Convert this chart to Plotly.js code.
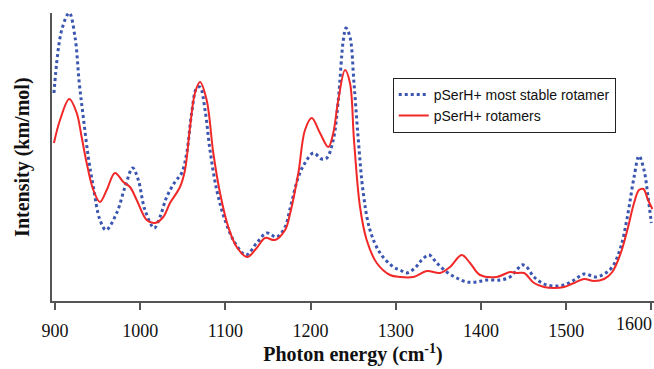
<!DOCTYPE html>
<html>
<head>
<meta charset="utf-8">
<script src="https://cdn.plot.ly/plotly-3.0.1.min.js"></script>
<style>html,body{margin:0;padding:0;background:#fff;}#chart{width:654px;height:369px;}</style>
</head>
<body>
<div id="chart"></div>
<script>
// Photon energy (cm-1) and intensity (arbitrary, km/mol)
const blueX = [898.8, 907.9, 916.8, 923.5, 928.5, 933.2, 939.1, 945, 952.8, 959.9, 972.4, 982.2, 991.2, 997.8, 1005.6, 1016.5, 1023.2, 1031.1, 1040.8, 1048.7, 1054.6, 1060.4, 1066.3, 1070.2, 1076.1, 1081.9, 1089.8, 1099.5, 1111.3, 1124.2, 1136.7, 1148.5, 1160.2, 1170, 1175.8, 1185.6, 1193.4, 1203.2, 1213, 1218.9, 1226.6, 1232.5, 1238.4, 1241.5, 1246.2, 1250.9, 1256, 1261.8, 1269.7, 1281.5, 1297.1, 1304.9, 1312.8, 1322.5, 1330.4, 1339, 1348, 1359.7, 1371.5, 1383.2, 1395, 1406.7, 1422.3, 1434, 1441.9, 1447.7, 1452.5, 1462.2, 1473.9, 1485.7, 1497.4, 1509.2, 1520.9, 1534.6, 1544.4, 1554.1, 1564, 1571.7, 1579.6, 1585.4, 1591.3, 1596, 1599.9];
const blueY = [208, 271, 288, 264, 218, 184, 144, 114, 81, 71, 88, 114, 133, 121, 91, 73, 84, 104, 119, 128, 148, 188, 213, 214, 191, 151, 111, 81, 58, 46, 58, 68, 64, 74, 92, 124, 138, 148, 142, 143, 161, 201, 261, 273, 264, 218, 161, 108, 71, 48, 34, 31, 28, 33, 41, 46, 38, 29, 23, 19, 19, 21, 21, 24, 31, 36, 35, 24, 17, 15, 16, 21, 27, 24, 27, 34, 54, 84, 124, 145, 131, 104, 78];
const redX = [898.8, 905.9, 916.8, 925.5, 931.3, 937.2, 945, 952.8, 960.7, 970.4, 980.2, 988, 995.9, 1007.6, 1017.4, 1027.1, 1035, 1046.7, 1052.6, 1058.5, 1064.3, 1070.2, 1078, 1085.8, 1093.7, 1103.4, 1113.3, 1125.7, 1136.7, 1146.5, 1158.2, 1170, 1175.8, 1185.6, 1193.4, 1201.3, 1211, 1220.8, 1226.6, 1232.5, 1240.4, 1246.2, 1250.9, 1258, 1265.8, 1277.6, 1293.2, 1304.9, 1320.5, 1336.3, 1351.9, 1363.6, 1377.3, 1387.1, 1398.8, 1418.4, 1434, 1441.9, 1450.5, 1462.2, 1473.9, 1485.7, 1497.4, 1509.2, 1520.9, 1532.6, 1544.4, 1554.1, 1564, 1571.7, 1579.6, 1585.4, 1590.5, 1596, 1601.1];
const redY = [158, 181, 202, 188, 164, 138, 111, 99, 111, 128, 119, 114, 101, 81, 78, 84, 98, 114, 131, 174, 208, 219, 201, 148, 108, 74, 54, 44, 53, 63, 61, 71, 87, 128, 171, 183, 168, 154, 168, 201, 231, 218, 161, 94, 61, 38, 26, 24, 24, 30, 28, 34, 46, 38, 26, 24, 29, 28, 28, 18, 14, 13, 14, 18, 22, 20, 22, 29, 48, 71, 98, 111, 112, 101, 92];
const tickVals = [900, 1000, 1100, 1200, 1300, 1400, 1500, 1600];
const tickText = ['900', '1000', '1100', '1200', '1300', '1400', '1500', ''];
const seriesNames = ['pSerH+ most stable rotamer', 'pSerH+ rotamers'];

const traces = [
  {x: blueX, y: blueY, name: seriesNames[0], type: 'scatter', mode: 'lines',
   line: {color: '#3a56b0', width: 3, dash: 'dot', shape: 'spline', smoothing: 1}},
  {x: redX, y: redY, name: seriesNames[1], type: 'scatter', mode: 'lines',
   line: {color: '#f02828', width: 2, shape: 'spline', smoothing: 1}}
];

const layout = {
  width: 654, height: 369,
  margin: {l: 52, r: 0, t: 13, b: 68},
  paper_bgcolor: '#fff', plot_bgcolor: '#fff',
  showlegend: true,
  legend: {x: 0.566, y: 0.775, xanchor: 'left', yanchor: 'top',
           bordercolor: '#222', borderwidth: 1, bgcolor: '#fff',
           font: {family: 'Arial, Liberation Sans, sans-serif', size: 14, color: '#111'},
           tracegroupgap: 0, itemwidth: 30},
  xaxis: {range: [896.5, 1603], showgrid: false, zeroline: false,
          showline: true, linecolor: '#555', linewidth: 2,
          ticks: 'outside', ticklen: 7, tickwidth: 2, tickcolor: '#555',
          tickvals: tickVals, ticktext: tickText, ticklabelstandoff: 5,
          tickfont: {family: 'Liberation Serif, Times New Roman, serif', size: 18, color: '#111'},
          title: {text: '<b>Photon energy (cm<sup>-1</sup>)</b>', standoff: 6,
                  font: {family: 'Liberation Serif, Times New Roman, serif', size: 20, color: '#111'}}},
  yaxis: {range: [0, 288], showgrid: false, zeroline: false,
          showline: true, linecolor: '#555', linewidth: 2,
          ticks: '', showticklabels: false},
  annotations: [
    {text: '<b>Intensity (km/mol)</b>', xref: 'paper', yref: 'paper', x: -0.05, y: 0.5,
     xanchor: 'center', yanchor: 'middle', textangle: -90, showarrow: false,
     font: {family: 'Liberation Serif, Times New Roman, serif', size: 20, color: '#111'}},
    {text: '1600', xref: 'paper', yref: 'paper', x: 1, y: 0, xanchor: 'right', yanchor: 'top',
     yshift: -11, showarrow: false,
     font: {family: 'Liberation Serif, Times New Roman, serif', size: 18, color: '#111'}}
  ]
};

Plotly.newPlot('chart', traces, layout, {displayModeBar: false, staticPlot: true});
</script>
</body>
</html>
